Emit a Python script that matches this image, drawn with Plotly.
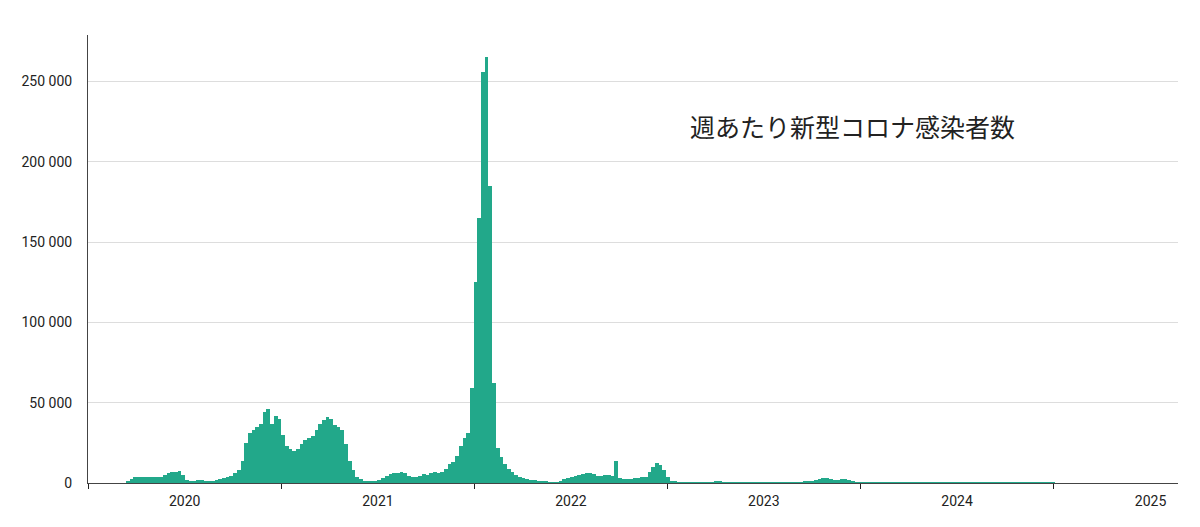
import plotly.graph_objects as go
import pandas as pd

start_week = "2020-03-16"
weekly_cases = [
    1500, 2500, 3500, 4000, 4000, 4000, 4000, 4000, 4000, 4000,
    5000, 6000, 7000, 7000, 7500, 5000, 2000, 1500, 1500, 2000,
    2000, 1500, 1500, 1500, 2000, 2500, 3000, 4000, 4500, 6000,
    8000, 14000, 25000, 31000, 33000, 35000, 37000, 44000, 46000, 37000,
    42000, 40000, 30000, 23000, 21000, 20000, 21000, 24000, 27000, 28000,
    29000, 33000, 37000, 39000, 41000, 40000, 36000, 35000, 33000, 24000,
    14000, 8000, 4000, 2500, 1500, 1000, 1000, 1500, 2000, 3000,
    4500, 5500, 6000, 6500, 7000, 6000, 4500, 4000, 3500, 4500,
    5500, 5000, 6000, 7000, 6000, 7000, 9000, 12000, 13000, 17000,
    23000, 28000, 31000, 59000, 125000, 165000, 256000, 265000, 185000, 62000,
    22000, 16000, 12000, 9000, 7000, 5000, 4000, 3000, 2500, 2000,
    2000, 1500, 1500, 1000, 500, 500, 500, 1500, 2500, 3000,
    3500, 4500, 5000, 5500, 6000, 6000, 5500, 4500, 4500, 5000,
    5000, 4500, 13500, 3000, 2500, 2500, 2500, 3000, 3000, 3500,
    4000, 7000, 10000, 12500, 11000, 8000, 4000, 1500, 800, 500,
    300, 200, 200, 200, 200, 200, 200, 200, 200, 800,
    800, 100, 100, 100, 100, 100, 100, 100, 100, 100,
    100, 100, 100, 100, 100, 100, 100, 100, 200, 300,
    400, 500, 600, 800, 1000, 1500, 2000, 2500, 3000, 3000,
    2500, 2000, 2000, 2500, 2500, 2000, 1000, 600, 300, 150,
    150, 150, 150, 150, 150, 150, 150, 150, 150, 150,
    150, 150, 150, 150, 150, 150, 150, 150, 150, 150,
    150, 150, 150, 150, 150, 150, 150, 150, 150, 150,
    150, 150, 150, 150, 150, 150, 150, 150, 150, 150,
    150, 150, 150, 150, 150, 150, 150, 150, 150, 150,
    150,
]
y_ticks = [0, 50000, 100000, 150000, 200000, 250000]
title_text = "週あたり新型コロナ感染者数"

dates = pd.date_range(start_week, periods=len(weekly_cases), freq="7D")

fig = go.Figure(go.Bar(
    x=dates, y=weekly_cases, marker_color="#22a88a", marker_line_width=0,
    width=7 * 24 * 3600 * 1000,
))
fig.update_layout(
    width=1200, height=527, plot_bgcolor="white", paper_bgcolor="white",
    margin=dict(l=80, r=30, t=27, b=52), bargap=0, showlegend=False,
    separators=". ", font=dict(family="Roboto", size=14, color="#222"),
    annotations=[dict(text=title_text, x=0.550, y=0.797, xref="paper", yref="paper",
                      xanchor="left", yanchor="middle", showarrow=False,
                      font=dict(family="Noto Sans CJK JP", size=25, color="#222"))],
)
fig.update_xaxes(
    type="date", range=["2020-01-01", "2025-08-24"], dtick="M12",
    tick0="2020-01-01", ticklabelmode="period", tickformat="%Y",
    ticks="outside", ticklen=5, tickcolor="#222", showgrid=False,
    showline=True, linecolor="#444", linewidth=1, automargin=False,
)
fig.update_yaxes(
    range=[0, 279000], tickvals=y_ticks, tickformat=",d", showgrid=True,
    gridcolor="#dddddd", gridwidth=1, zeroline=False, showline=True,
    linecolor="#444", linewidth=1, ticks="", ticklabelstandoff=12, automargin=False,
)
fig.write_html("out.html")
